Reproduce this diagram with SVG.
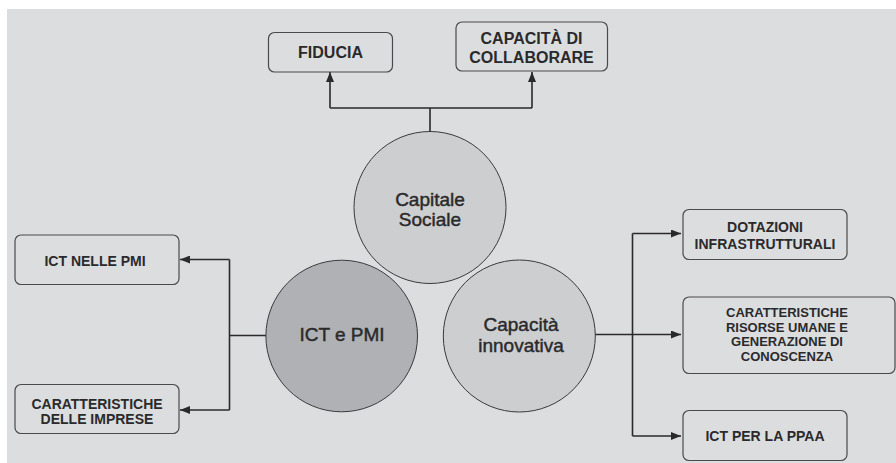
<svg xmlns="http://www.w3.org/2000/svg" width="896" height="463" viewBox="0 0 896 463">
<style>
.bg{fill:#ffffff}
.panel{fill:#dcdddf}
.box{fill:#dcdddf;stroke:#4a4a4c;stroke-width:1.2}
.circ{stroke:#3a3a3c;stroke-width:1}
.light{fill:#cdcecf}
.dark{fill:#b0b1b4}
.bt{font-family:"Liberation Sans",Arial,sans-serif;font-weight:bold;fill:#2a2a2c;text-anchor:middle}
.ct{font-family:"Liberation Sans",Arial,sans-serif;font-size:19px;fill:#2a2a2c;stroke:#2a2a2c;stroke-width:0.45;text-anchor:middle}
.con{fill:none;stroke:#2a2a2c;stroke-width:1.6}
</style>
<defs>
<marker id="arr" viewBox="0 0 10 8" refX="10" refY="4" markerWidth="10" markerHeight="8" markerUnits="userSpaceOnUse" orient="auto">
<path d="M0,0 L10,4 L0,8 Z" fill="#2a2a2c"/>
</marker>
</defs>
<rect class="bg" x="0" y="0" width="896" height="463"/>
<rect class="panel" x="7" y="9" width="889" height="454"/>

<g id="connectors">
<path class="con" d="M430,131.5 V108 M330,108 H532"/>
<path class="con" d="M330,108 V72" marker-end="url(#arr)"/>
<path class="con" d="M532,108 V72" marker-end="url(#arr)"/>
<path class="con" d="M266,335.5 H229.5 M229.5,259.5 V410"/>
<path class="con" d="M229.5,259.5 H180" marker-end="url(#arr)"/>
<path class="con" d="M229.5,410 H180" marker-end="url(#arr)"/>
<path class="con" d="M595,334.5 H632.5 M632.5,233.5 V436"/>
<path class="con" d="M632.5,233.5 H681" marker-end="url(#arr)"/>
<path class="con" d="M632.5,334.5 H681" marker-end="url(#arr)"/>
<path class="con" d="M632.5,436 H681" marker-end="url(#arr)"/>
</g>

<g id="capitale-sociale">
<circle class="circ light" cx="430" cy="207.5" r="76"/>
<text class="ct" x="430" y="205.5">Capitale</text>
<text class="ct" x="430" y="225.5">Sociale</text>
</g>

<g id="ict-pmi">
<circle class="circ dark" cx="341.7" cy="336" r="75.8"/>
<text class="ct" x="342" y="340.5" font-size="18">ICT e PMI</text>
</g>

<g id="capacita-innovativa">
<circle class="circ light" cx="519.3" cy="336" r="76"/>
<text class="ct" x="521" y="330.5">Capacità</text>
<text class="ct" x="521" y="351.5">innovativa</text>
</g>

<g id="fiducia">
<rect class="box" x="268.5" y="32.5" width="124" height="39.5" rx="6"/>
<text class="bt" x="330.5" y="57.5" font-size="16">FIDUCIA</text>
</g>

<g id="capacita-collaborare">
<rect class="box" x="456" y="22" width="151.5" height="49" rx="6"/>
<text class="bt" x="531.5" y="43.5" font-size="16">CAPACITÀ DI</text>
<text class="bt" x="531.5" y="62.5" font-size="16">COLLABORARE</text>
</g>

<g id="ict-nelle-pmi">
<rect class="box" x="15" y="235" width="164" height="49.5" rx="6"/>
<text class="bt" x="95" y="265.5" font-size="14">ICT NELLE PMI</text>
</g>

<g id="caratteristiche-imprese">
<rect class="box" x="15" y="384.5" width="164" height="49" rx="6"/>
<text class="bt" x="97" y="408.5" font-size="14">CARATTERISTICHE</text>
<text class="bt" x="97" y="423.5" font-size="14">DELLE IMPRESE</text>
</g>

<g id="dotazioni">
<rect class="box" x="683" y="209.5" width="164" height="50" rx="6"/>
<text class="bt" x="765" y="231.5" font-size="14">DOTAZIONI</text>
<text class="bt" x="765" y="248.5" font-size="14">INFRASTRUTTURALI</text>
</g>

<g id="risorse-umane">
<rect class="box" x="683" y="297" width="212" height="76.5" rx="6"/>
<text class="bt" x="787" y="317" font-size="13">CARATTERISTICHE</text>
<text class="bt" x="787" y="331.5" font-size="13">RISORSE UMANE E</text>
<text class="bt" x="787" y="346" font-size="13">GENERAZIONE DI</text>
<text class="bt" x="787" y="360.5" font-size="13">CONOSCENZA</text>
</g>

<g id="ict-ppaa">
<rect class="box" x="683" y="410.5" width="164" height="50" rx="6"/>
<text class="bt" x="765" y="441" font-size="14">ICT PER LA PPAA</text>
</g>
</svg>
